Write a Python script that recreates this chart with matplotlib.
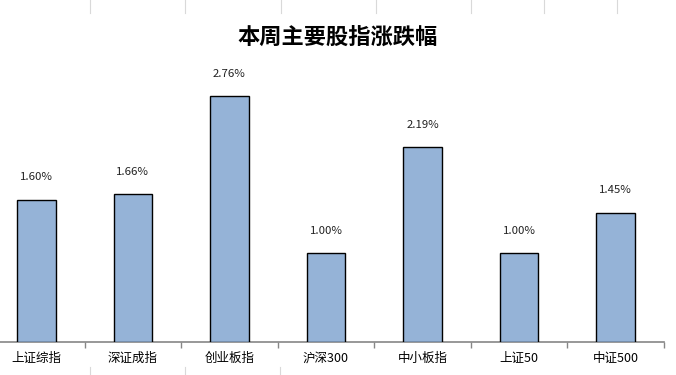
import numpy as np
import matplotlib
matplotlib.use("Agg")
import matplotlib.pyplot as plt
from matplotlib.lines import Line2D

plt.rcParams['font.family'] = ['Noto Sans CJK SC', 'DejaVu Sans']

# data
indices = ['上证综指', '深证成指', '创业板指', '沪深300', '中小板指', '上证50', '中证500']
changes = [1.60, 1.66, 2.76, 1.00, 2.19, 1.00, 1.45]
title = '本周主要股指涨跌幅'

fig = plt.figure(figsize=(6.76, 3.75), dpi=100)
# plot area runs a little past the left edge, as in the screenshot
ax = fig.add_axes([-12 / 676, 33 / 375, 676 / 676, 285 / 375])

x = np.arange(len(indices))
ax.bar(x, changes, width=0.4, color='#95B3D7', edgecolor='black', linewidth=1.0, zorder=3)

for xi, v in zip(x, changes):
    ax.annotate(f'{v:.2f}%', (xi, v), xytext=(0, 12.5), textcoords='offset points',
                ha='center', va='bottom', fontsize=8.2, color='#222222')

ax.set_xlim(-0.5, len(indices) - 0.5)
ax.set_ylim(0, 3.2)
ax.set_xticks(x)
ax.set_xticklabels(indices, fontsize=9)
ax.set_xticks(np.arange(len(indices) + 1) - 0.5, minor=True)
ax.tick_params(axis='x', which='major', length=0, pad=7)
ax.tick_params(axis='x', which='minor', length=4, color='#868686', width=1)
ax.set_yticks([])
for side in ['left', 'right', 'top']:
    ax.spines[side].set_visible(False)
ax.spines['bottom'].set_color('#868686')
ax.spines['bottom'].set_linewidth(1.2)

fig.text(0.5, 1 - 37 / 375, title, ha='center', va='center', fontsize=16,
         fontweight='bold', color='black')

# faint spreadsheet cell borders peeking in at top and bottom
for px in [90, 185, 281, 376, 471, 544, 617]:
    fig.add_artist(Line2D([px / 676, px / 676], [1, 1 - 13 / 375],
                          color='#d9d9d9', lw=0.8))
for px in [90, 185, 280]:
    fig.add_artist(Line2D([px / 676, px / 676], [0, 8 / 375],
                          color='#d9d9d9', lw=0.8))

fig.savefig('out.png', dpi=100)
